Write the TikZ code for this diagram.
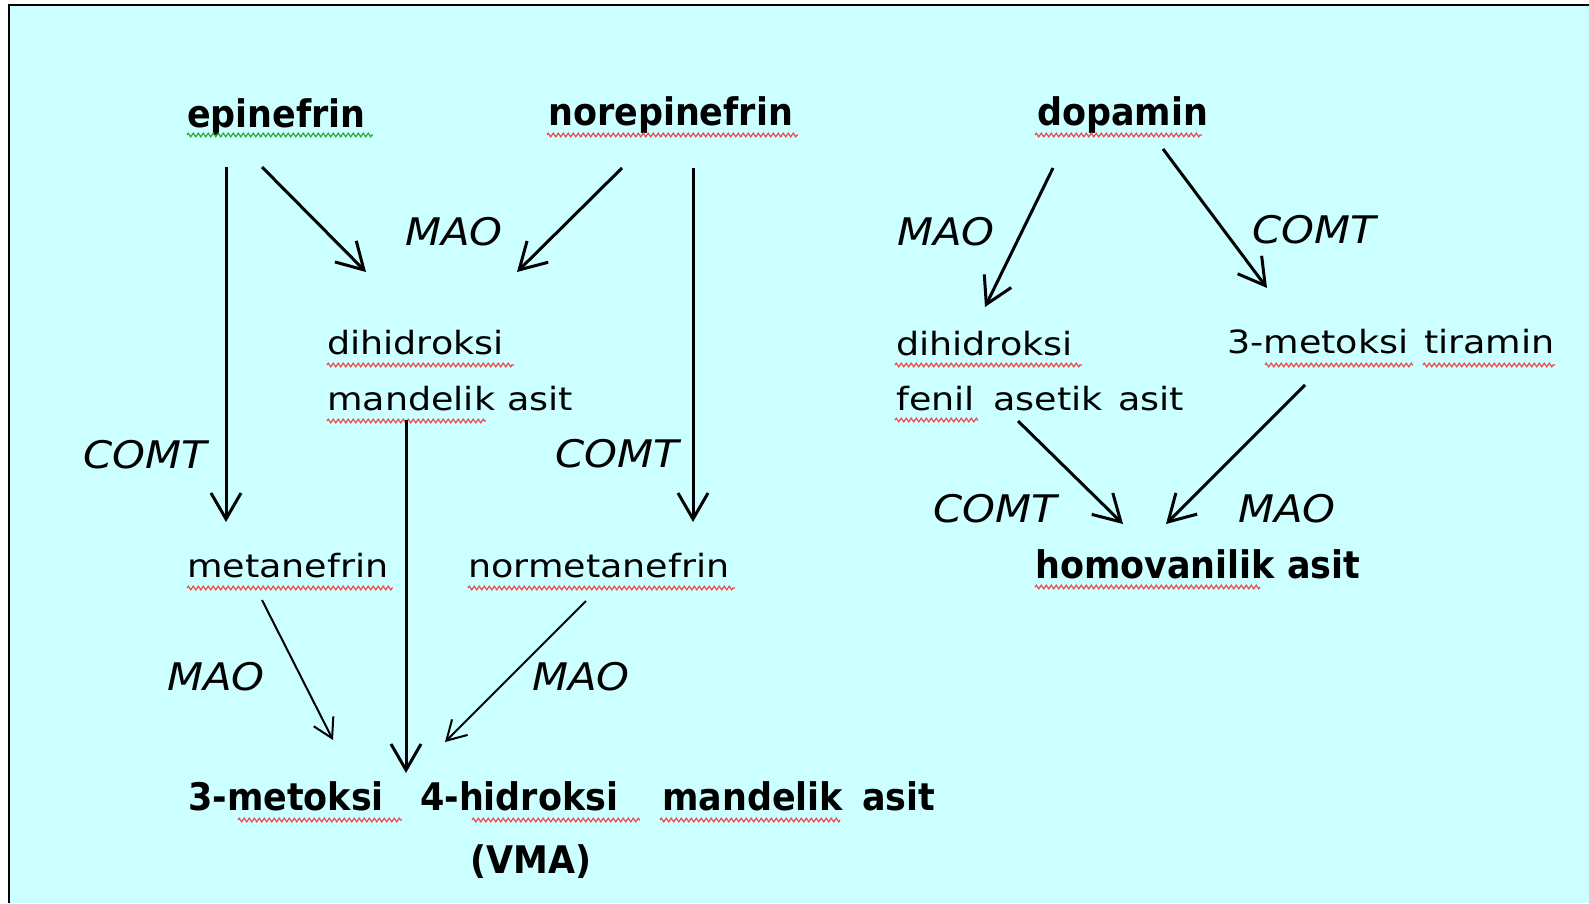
\documentclass[tikz,border=0pt]{standalone}
\usepackage{fontspec}
\usetikzlibrary{arrows.meta,decorations.pathmorphing}
\newfontfamily\regf{DejaVu Sans}[FakeStretch=1.14]
\newfontfamily\boldf{DejaVu Sans}[FakeStretch=0.92]
\newfontfamily\itf{DejaVu Sans}[FakeStretch=1.1]
\definecolor{bgcyan}{HTML}{CCFFFF}
\definecolor{spellred}{HTML}{F04848}
\definecolor{spellgreen}{HTML}{30A830}
\begin{document}
\begin{tikzpicture}[x=1pt,y=-1pt,
 reg/.style={anchor=base west,inner sep=0pt,font=\regf\fontsize{32}{36}\selectfont},
 bld/.style={anchor=base west,inner sep=0pt,font=\boldf\bfseries\fontsize{38}{42}\selectfont},
 enz/.style={anchor=base west,inner sep=0pt,font=\itf\itshape\fontsize{38}{42}\selectfont},
 arr/.style={line width=3pt,-{Straight Barb[length=26pt,width=30pt]}},
 tarr/.style={line width=2pt,-{Straight Barb[length=19pt,width=22pt]}},
 sq/.style={draw=spellred,line width=1.2pt,decorate,decoration={zigzag,segment length=5pt,amplitude=1.8pt}},
 sqg/.style={sq,draw=spellgreen}]
\useasboundingbox (0,0) rectangle (1589,903);
\fill[white] (0,0) rectangle (1589,903);
\fill[bgcyan] (9,5) rectangle (1589,903);
\draw[line width=2.5pt] (9,903) -- (9,5) -- (1589,5);

% texts
\node[bld] (epi) at (187,127) {epinefrin};
\node[bld] (nor) at (548,125) {norepinefrin};
\node[bld] (dop) at (1037,125) {dopamin};
\node[enz] (mao1) at (405,245) {MAO};
\node[reg] (dmaL1) at (327,354) {dihidroksi};
\node[reg] (dmaL2) at (327,410) {\makebox[180pt][l]{mandelik}asit};
\node[enz] (comt1) at (83,468) {COMT};
\node[enz] (comt2) at (555,467) {COMT};
\node[reg] (met) at (187,577) {metanefrin};
\node[reg] (nmet) at (468,577) {normetanefrin};
\node[enz] (mao2) at (167,690) {MAO};
\node[enz] (mao3) at (532,690) {MAO};
\node[bld] (vma1) at (188,810) {\makebox[232pt][l]{3-metoksi}\makebox[242pt][l]{4-hidroksi}\makebox[200pt][l]{mandelik}asit};
\node[bld] (vma2) at (470,873) {(VMA)};
\node[enz] (mao4) at (897,245) {MAO};
\node[enz] (comt3) at (1252,243) {COMT};
\node[reg] (dfa1) at (896,355) {dihidroksi};
\node[reg] (dfa2) at (896,410) {\makebox[97pt][l]{fenil}\makebox[125pt][l]{asetik}asit};
\node[reg] (mtir) at (1227,353) {\makebox[197pt][l]{3-metoksi}tiramin};
\node[enz] (comt4) at (933,522) {COMT};
\node[enz] (mao5) at (1238,522) {MAO};
\node[bld] (hva) at (1035,578) {\makebox[252pt][l]{homovanilik}asit};

% spelling squiggles
\draw[sqg] (187,135) -- (373,135);
\draw[sq] (547,135) -- (798,135);
\draw[sq] (1035,135) -- (1202,135);
\draw[sq] (327,365) -- (514,365);
\draw[sq] (327,421) -- (486,421);
\draw[sq] (187,588) -- (393,588);
\draw[sq] (468,588) -- (735,588);
\draw[sq] (238,820) -- (402,820);
\draw[sq] (472,820) -- (640,820);
\draw[sq] (660,820) -- (840,820);
\draw[sq] (895,365) -- (1082,365);
\draw[sq] (895,420) -- (978,420);
\draw[sq] (1265,365) -- (1413,365);
\draw[sq] (1423,365) -- (1555,365);
\draw[sq] (1035,587) -- (1260,587);

% connector end points
\coordinate (a1s) at (226,167); \coordinate (a1e) at (226,522);
\coordinate (a2s) at (262,167); \coordinate (a2e) at (366,272);
\coordinate (a3s) at (622,168); \coordinate (a3e) at (517,272);
\coordinate (a4s) at (693,168); \coordinate (a4e) at (693,522);
\coordinate (a5s) at (406,420); \coordinate (a5e) at (406,773);
\coordinate (a6s) at (262,600); \coordinate (a6e) at (333,740);
\coordinate (a7s) at (586,601); \coordinate (a7e) at (445,742);
\coordinate (a8s) at (1053,168); \coordinate (a8e) at (985,307);
\coordinate (a9s) at (1163,149); \coordinate (a9e) at (1267,288);
\coordinate (a10s) at (1018,421); \coordinate (a10e) at (1123,524);
\coordinate (a11s) at (1305,385); \coordinate (a11e) at (1166,524);

\draw[arr] (a1s) -- (a1e);
\draw[arr] (a2s) -- (a2e);
\draw[arr] (a3s) -- (a3e);
\draw[arr] (a4s) -- (a4e);
\draw[arr] (a5s) -- (a5e);
\draw[tarr] (a6s) -- (a6e);
\draw[tarr] (a7s) -- (a7e);
\draw[arr] (a8s) -- (a8e);
\draw[arr] (a9s) -- (a9e);
\draw[arr] (a10s) -- (a10e);
\draw[arr] (a11s) -- (a11e);
\end{tikzpicture}
\end{document}
